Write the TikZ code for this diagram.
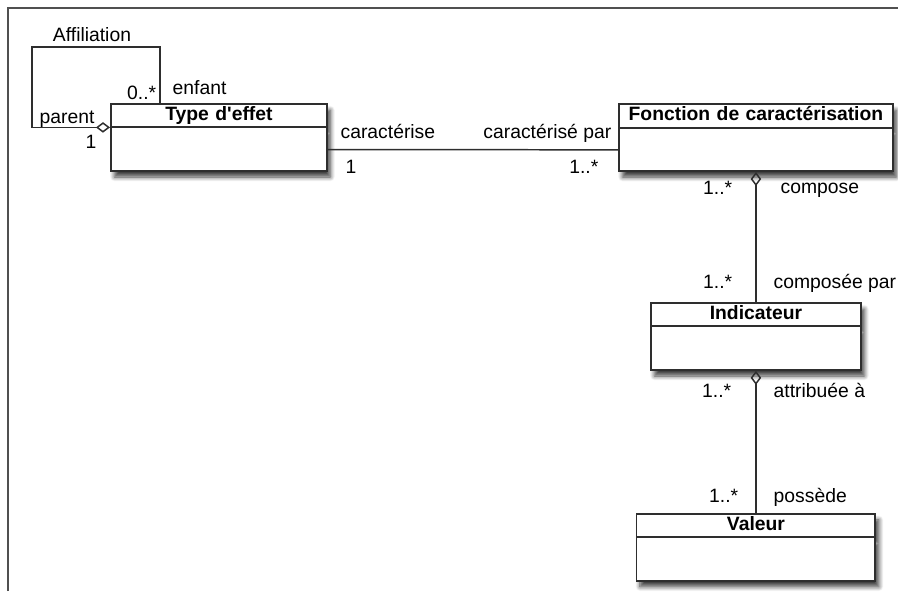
\documentclass[tikz,border=0pt]{standalone}
\usepackage{fontspec}
\setmainfont{Liberation Sans}
\usepackage{xcolor}
\usepackage{tikz}
\usetikzlibrary{positioning, arrows.meta, shapes.multipart, shadows.blur, calc}
\definecolor{framegray}{HTML}{505050}
\definecolor{linegray}{HTML}{2E2E2E}

\newcommand{\vide}{\nodepart{two}\rule{0pt}{0.76cm}}

\tikzset{
    classe/.style={rectangle split, rectangle split parts=2, draw=linegray,
        line width=1.1pt, fill=white, text width=#1, align=center,
        inner xsep=0pt, inner ysep=1pt,
        font=\fontsize{11}{13}\selectfont\bfseries,
        blur shadow={shadow xshift=2pt, shadow yshift=-3.5pt,
            shadow blur steps=8, shadow blur radius=2.5pt, shadow opacity=75}},
    assoc/.style={draw=linegray, line width=0.85pt},
    agreg/.style={assoc, {Diamond[open, length=8pt, width=6pt, line width=0.85pt]}-},
    role/.style={inner sep=0pt, font=\fontsize{11}{13}\selectfont},
}

\begin{document}
\begin{tikzpicture}[x=0.02cm, y=-0.02cm]
    \useasboundingbox (0,0) rectangle (898,591);
    \draw[framegray, line width=1.3pt] (8,591) -- (8,8) -- (898,8);

    % classes
    \node[classe=4.32cm, anchor=north west] (type) at (110,103)
        {\vphantom{Tp}Type d\textquotesingle effet\vide};
    \node[classe=5.48cm, anchor=north west] (fonction) at (618,103)
        {\vphantom{Tp}Fonction de caractérisation\vide};
    \node[classe=4.2cm, below=2.6cm of fonction] (indicateur)
        {\vphantom{Tp}Indicateur\vide};
    \node[classe=4.78cm, below=2.84cm of indicateur] (valeur)
        {\vphantom{Tp}Valeur\vide};

    % affiliation
    \coordinate (coinhaut) at (32,47);
    \coordinate (enfantpt) at (160,47);
    \draw[agreg] (type.text split west)
            node[role, anchor=base east, xshift=-0.26cm, yshift=-0.42cm] (mparent) {1}
        -| (coinhaut)
            node[role, pos=0.5, anchor=base west, xshift=0.14cm, yshift=0.08cm] (lparent) {parent}
        -- (enfantpt)
            node[role, midway, anchor=base, xshift=-0.08cm, yshift=0.1cm] (laffil) {Affiliation}
        -- (enfantpt |- type.north)
            node[role, anchor=base east, xshift=-0.06cm, yshift=0.06cm] (menfant) {0..*}
            node[role, anchor=base west, xshift=0.24cm, yshift=0.18cm] (lenfant) {enfant};

    % caracterise
    \coordinate (typecorps) at ($(type.text split east)!0.5!(type.south east)$);
    \coordinate (fonctcorps) at ($(fonction.text split west)!0.5!(fonction.south west)$);
    \draw[assoc] (typecorps)
            node[role, anchor=base west, xshift=0.24cm, yshift=0.22cm] (lcaract) {caractérise}
            node[role, anchor=base west, xshift=0.34cm, yshift=-0.48cm] (mcaract) {1}
        -- (fonctcorps)
            node[role, anchor=base east, xshift=-0.12cm, yshift=0.22cm] (lcaractpar) {caractérisé par}
            node[role, anchor=base east, xshift=-0.38cm, yshift=-0.48cm] (mcaractpar) {1..*};

    % compose
    \draw[agreg] (fonction.south)
            node[role, anchor=base east, xshift=-0.46cm, yshift=-0.46cm] (mcompose) {1..*}
            node[role, anchor=base west, xshift=0.48cm, yshift=-0.44cm] (lcompose) {compose}
        -- (indicateur.north)
            node[role, anchor=base east, xshift=-0.46cm, yshift=0.26cm] (mcomposee) {1..*}
            node[role, anchor=base west, xshift=0.34cm, yshift=0.26cm] (lcomposee) {composée par};

    % attribuee
    \draw[agreg] (indicateur.south)
            node[role, anchor=base east, xshift=-0.48cm, yshift=-0.54cm] (mattrib) {1..*}
            node[role, anchor=base west, xshift=0.34cm, yshift=-0.54cm] (lattrib) {attribuée à}
        -- (valeur.north)
            node[role, anchor=base east, xshift=-0.34cm, yshift=0.2cm] (mpossede) {1..*}
            node[role, anchor=base west, xshift=0.34cm, yshift=0.2cm] (lpossede) {possède};
\end{tikzpicture}
\end{document}
